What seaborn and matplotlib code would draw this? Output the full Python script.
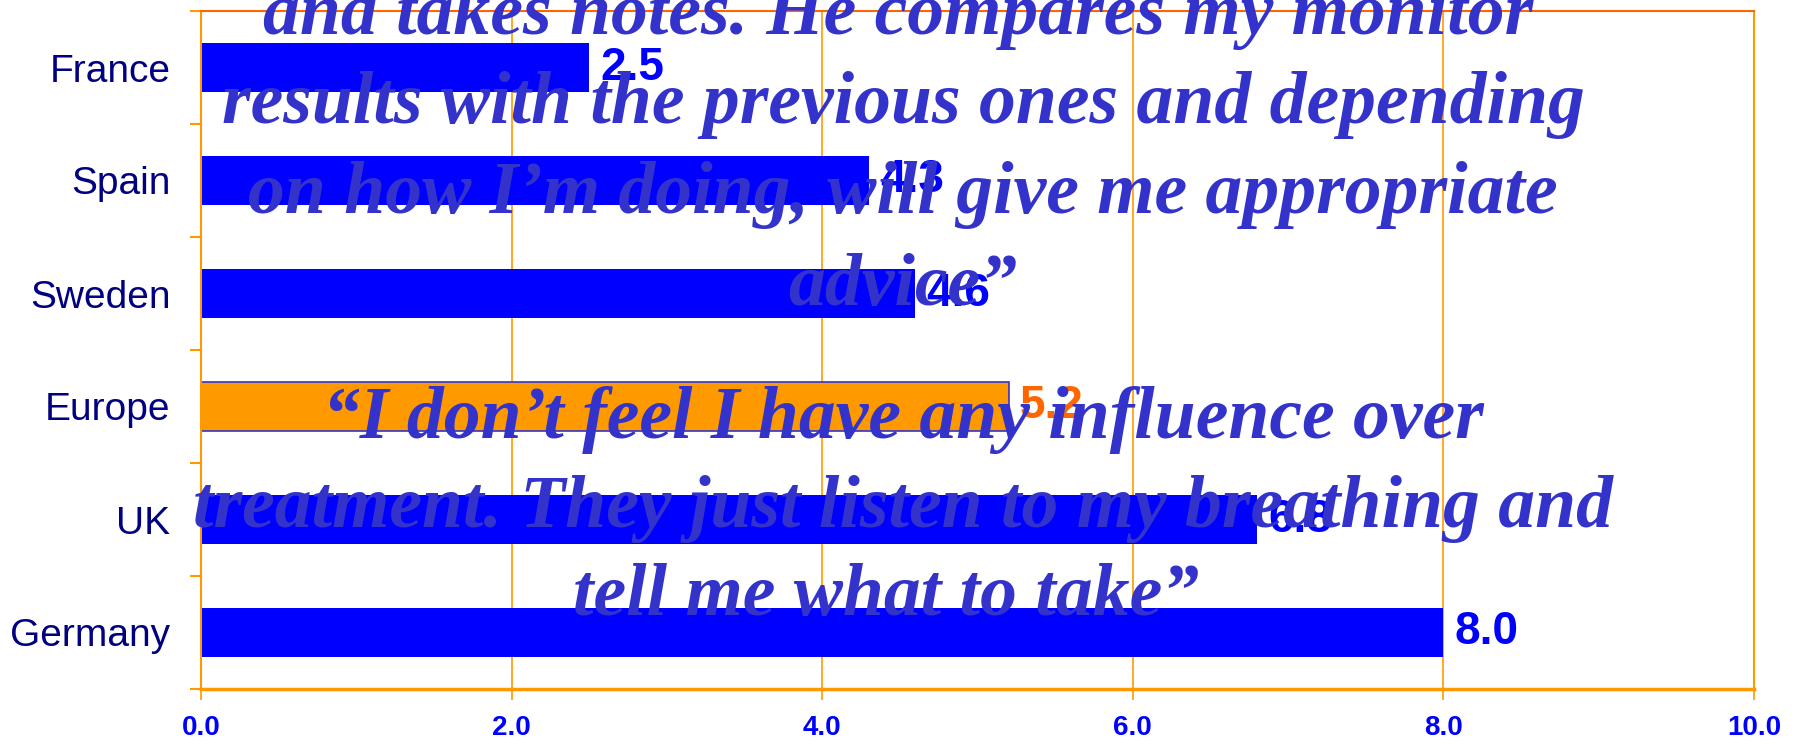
import matplotlib
matplotlib.use("Agg")
import matplotlib.pyplot as plt
import seaborn as sns
from matplotlib.ticker import FixedLocator
from matplotlib.transforms import offset_copy

# ── data ────────────────────────────────────────────────
countries = ["France", "Spain", "Sweden", "Europe", "UK", "Germany"]
scores = [2.5, 4.3, 4.6, 5.2, 6.8, 8.0]
bar_colors = ["#0000FF", "#0000FF", "#0000FF", "#FF9900", "#0000FF", "#0000FF"]
label_colors = ["#0000FF", "#0000FF", "#0000FF", "#FF6600", "#0000FF", "#0000FF"]
x_ticks = [0, 2, 4, 6, 8, 10]

quote_top = [
    "and takes notes. He compares my monitor",
    "results with the previous ones and depending",
    "on how I\u2019m doing, will give me appropriate",
    "advice\u201d",
]
quote_bottom = [
    "\u201cI don\u2019t feel I have any influence over",
    "treatment. They just listen to my breathing and",
    "tell me what to take\u201d",
]

sns.set_style("white")
plt.rcParams["font.family"] = ["Liberation Sans", "DejaVu Sans"]

W, H = 1796, 750
fig = plt.figure(figsize=(W / 100, H / 100), dpi=100)
ax = fig.add_axes([201 / W, 1 - 689 / H, (1754 - 201) / W, (689 - 11) / H])

sns.barplot(x=scores, y=countries, hue=countries, palette=bar_colors,
            legend=False, width=0.43, orient="h", saturation=1, ax=ax,
            edgecolor="none")
# Europe bar gets a thin blue outline
ax.patches[3].set_edgecolor("#3333CC")
ax.patches[3].set_linewidth(1.2)

ax.set_xlim(0, 10)
ax.set_ylim(5.5, -0.5)
ax.set_xlabel("")
ax.set_ylabel("")

# grid and spines
ax.set_xticks(x_ticks)
ax.set_xticklabels([f"{t:.1f}" for t in x_ticks], fontsize=20,
                   fontweight="bold", color="#0000FF")
ax.xaxis.grid(True, color="#FF9900", lw=1.2)
ax.set_axisbelow(True)
for side in ["left", "right", "bottom"]:
    ax.spines[side].set_visible(True)
    ax.spines[side].set_color("#FF9900")
ax.spines["top"].set_visible(True)
ax.spines["top"].set_color("#FF6600")
ax.spines["top"].set_linewidth(1.5)
ax.spines["left"].set_linewidth(1.5)
ax.spines["right"].set_linewidth(1.5)
ax.spines["bottom"].set_linewidth(2.5)

ax.tick_params(axis="x", which="major", length=8, width=1.2,
               color="#FF9900", pad=11, bottom=True)
ax.set_yticks(range(len(countries)))
ax.set_yticklabels(countries, fontsize=28, color="#000080")
ax.yaxis.set_minor_locator(FixedLocator([i - 0.5 for i in range(len(countries) + 1)]))
ax.tick_params(axis="y", which="major", length=0, pad=22)
ax.tick_params(axis="y", which="minor", length=8, width=1.5,
               color="#FF9900", left=True)

# value labels
for i, (v, c) in enumerate(zip(scores, label_colors)):
    ax.text(v, i, f"{v:.1f}", ha="left", va="center", fontsize=33,
            fontweight="bold", color=c,
            transform=offset_copy(ax.transData, fig=fig, x=11, y=0, units="dots"))

# quotes drawn over the chart
quote_font = dict(family=["Liberation Serif", "DejaVu Serif"], fontsize=53,
                  fontweight="bold", style="italic", color="#3333CC",
                  ha="center", va="baseline")
top_baselines = [34, 123, 213, 305]
top_centers = [898, 903, 903, 903]
bottom_baselines = [438, 527, 615]
bottom_centers = [903, 903, 886]
for line, xc, yb in zip(quote_top, top_centers, top_baselines):
    fig.text(xc / W, 1 - yb / H, line, zorder=10, **quote_font)
for line, xc, yb in zip(quote_bottom, bottom_centers, bottom_baselines):
    fig.text(xc / W, 1 - yb / H, line, zorder=10, **quote_font)

plt.savefig("out.png", dpi=100)
plt.close()
